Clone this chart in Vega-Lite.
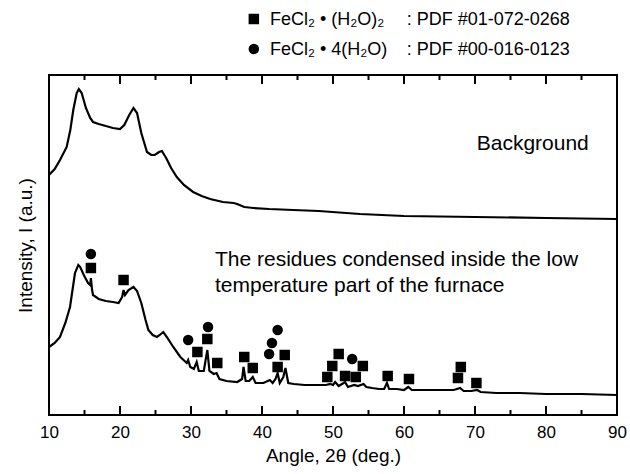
{
  "$schema": "https://vega.github.io/schema/vega-lite/v6.json",
  "width": 568,
  "height": 340,
  "autosize": {"type": "none"},
  "padding": {"left": 49, "top": 75, "right": 13, "bottom": 59},
  "config": {
    "font": "Liberation Sans",
    "view": {"stroke": null},
    "axis": {"grid": false, "domain": false, "ticks": false, "labelColor": "black", "titleColor": "black", "labelFont": "Liberation Sans", "titleFont": "Liberation Sans", "titleFontWeight": "normal"}
  },
  "datasets": {
    "major": [{"angle": 10}, {"angle": 20}, {"angle": 30}, {"angle": 40}, {"angle": 50}, {"angle": 60}, {"angle": 70}, {"angle": 80}, {"angle": 90}],
    "minor": [{"angle": 15}, {"angle": 25}, {"angle": 35}, {"angle": 45}, {"angle": 55}, {"angle": 65}, {"angle": 75}, {"angle": 85}],
    "one": [{"frame": 1}]
  },
  "layer": [
    {
      "data": {"values": [
        {"angle": 10.0, "intensity": 240}, {"angle": 10.8, "intensity": 246}, {"angle": 11.55, "intensity": 255}, {"angle": 12.49, "intensity": 268},
        {"angle": 13.0, "intensity": 285}, {"angle": 13.42, "intensity": 305}, {"angle": 13.9, "intensity": 322}, {"angle": 14.2, "intensity": 326},
        {"angle": 14.6, "intensity": 322}, {"angle": 15.2, "intensity": 307}, {"angle": 15.8, "intensity": 297}, {"angle": 16.2, "intensity": 293},
        {"angle": 17.0, "intensity": 291}, {"angle": 18.0, "intensity": 289}, {"angle": 19.0, "intensity": 287}, {"angle": 20.0, "intensity": 286},
        {"angle": 20.6, "intensity": 290}, {"angle": 21.3, "intensity": 300}, {"angle": 21.9, "intensity": 307}, {"angle": 22.4, "intensity": 302},
        {"angle": 23.0, "intensity": 282}, {"angle": 23.8, "intensity": 263}, {"angle": 24.4, "intensity": 260}, {"angle": 24.9, "intensity": 260},
        {"angle": 25.5, "intensity": 263}, {"angle": 25.9, "intensity": 264}, {"angle": 26.5, "intensity": 257}, {"angle": 27.2, "intensity": 247},
        {"angle": 28.0, "intensity": 238}, {"angle": 29.0, "intensity": 230}, {"angle": 30.3, "intensity": 223}, {"angle": 31.5, "intensity": 219},
        {"angle": 32.7, "intensity": 216}, {"angle": 34.5, "intensity": 213}, {"angle": 36.0, "intensity": 212}, {"angle": 36.5, "intensity": 211},
        {"angle": 37.5, "intensity": 208}, {"angle": 38.8, "intensity": 207}, {"angle": 41.0, "intensity": 206}, {"angle": 44.4, "intensity": 205},
        {"angle": 48.0, "intensity": 204}, {"angle": 53.8, "intensity": 201}, {"angle": 60.0, "intensity": 199}, {"angle": 70.0, "intensity": 198},
        {"angle": 80.0, "intensity": 197}, {"angle": 90.0, "intensity": 196}
      ]},
      "mark": {"type": "line", "color": "black", "strokeWidth": 2.2},
      "encoding": {
        "x": {"field": "angle", "type": "quantitative", "scale": {"domain": [10, 90], "nice": false, "zero": false},
          "axis": {"orient": "bottom", "values": [10, 20, 30, 40, 50, 60, 70, 80, 90], "labelPadding": 9, "labelFontSize": 17, "labelFlush": false, "labelOverlap": false, "title": "Angle, 2θ (deg.)", "titleFontSize": 19, "titlePadding": 6}},
        "y": {"field": "intensity", "type": "quantitative", "scale": {"domain": [0, 340], "nice": false, "zero": false},
          "axis": {"orient": "left", "labels": false, "title": "Intensity, I (a.u.)", "titleFontSize": 19, "titlePadding": 14}}
      }
    },
    {
      "data": {"values": [
        {"angle": 10.0, "intensity": 68}, {"angle": 10.8, "intensity": 72}, {"angle": 11.55, "intensity": 78}, {"angle": 12.3, "intensity": 92},
        {"angle": 12.96, "intensity": 108}, {"angle": 13.66, "intensity": 142}, {"angle": 14.13, "intensity": 150}, {"angle": 14.4, "intensity": 148},
        {"angle": 14.9, "intensity": 140}, {"angle": 15.5, "intensity": 132}, {"angle": 15.8, "intensity": 130}, {"angle": 15.9, "intensity": 137},
        {"angle": 16.05, "intensity": 126}, {"angle": 16.2, "intensity": 120}, {"angle": 17.0, "intensity": 116}, {"angle": 18.0, "intensity": 114},
        {"angle": 19.0, "intensity": 113}, {"angle": 19.8, "intensity": 112}, {"angle": 20.3, "intensity": 118}, {"angle": 20.5, "intensity": 125},
        {"angle": 20.7, "intensity": 120}, {"angle": 21.2, "intensity": 125}, {"angle": 21.9, "intensity": 128}, {"angle": 22.4, "intensity": 124},
        {"angle": 23.0, "intensity": 112}, {"angle": 23.6, "intensity": 95}, {"angle": 24.0, "intensity": 85}, {"angle": 24.6, "intensity": 80},
        {"angle": 25.2, "intensity": 78}, {"angle": 25.6, "intensity": 80}, {"angle": 26.1, "intensity": 83}, {"angle": 26.6, "intensity": 78},
        {"angle": 27.5, "intensity": 68}, {"angle": 28.5, "intensity": 58}, {"angle": 29.4, "intensity": 52}, {"angle": 29.6, "intensity": 55},
        {"angle": 29.9, "intensity": 48}, {"angle": 30.4, "intensity": 46}, {"angle": 30.8, "intensity": 53}, {"angle": 31.1, "intensity": 44},
        {"angle": 31.8, "intensity": 44}, {"angle": 32.3, "intensity": 65}, {"angle": 32.6, "intensity": 44}, {"angle": 33.2, "intensity": 41},
        {"angle": 33.6, "intensity": 42}, {"angle": 34.0, "intensity": 36}, {"angle": 35.0, "intensity": 34}, {"angle": 36.5, "intensity": 33},
        {"angle": 37.2, "intensity": 36}, {"angle": 37.4, "intensity": 48}, {"angle": 37.7, "intensity": 34}, {"angle": 38.2, "intensity": 34},
        {"angle": 38.7, "intensity": 38}, {"angle": 39.1, "intensity": 32}, {"angle": 40.2, "intensity": 32}, {"angle": 41.1, "intensity": 35},
        {"angle": 41.5, "intensity": 32}, {"angle": 41.9, "intensity": 36}, {"angle": 42.2, "intensity": 42}, {"angle": 42.5, "intensity": 32},
        {"angle": 43.0, "intensity": 38}, {"angle": 43.3, "intensity": 47}, {"angle": 43.7, "intensity": 32}, {"angle": 44.5, "intensity": 31},
        {"angle": 46.0, "intensity": 30}, {"angle": 47.5, "intensity": 30}, {"angle": 49.0, "intensity": 30}, {"angle": 49.6, "intensity": 31},
        {"angle": 50.0, "intensity": 30}, {"angle": 50.3, "intensity": 33}, {"angle": 50.8, "intensity": 29}, {"angle": 51.5, "intensity": 32},
        {"angle": 51.7, "intensity": 33}, {"angle": 52.1, "intensity": 28}, {"angle": 53.0, "intensity": 30}, {"angle": 53.5, "intensity": 29},
        {"angle": 54.3, "intensity": 31}, {"angle": 54.7, "intensity": 28}, {"angle": 55.5, "intensity": 27}, {"angle": 56.5, "intensity": 26},
        {"angle": 57.2, "intensity": 26}, {"angle": 57.6, "intensity": 32}, {"angle": 57.9, "intensity": 26}, {"angle": 59.0, "intensity": 26},
        {"angle": 60.0, "intensity": 25}, {"angle": 60.6, "intensity": 28}, {"angle": 61.1, "intensity": 25}, {"angle": 63.0, "intensity": 25},
        {"angle": 65.0, "intensity": 25}, {"angle": 67.0, "intensity": 25}, {"angle": 67.9, "intensity": 27}, {"angle": 68.4, "intensity": 24},
        {"angle": 69.5, "intensity": 24}, {"angle": 70.3, "intensity": 25}, {"angle": 70.8, "intensity": 23}, {"angle": 73.0, "intensity": 22},
        {"angle": 76.3, "intensity": 22}, {"angle": 80.0, "intensity": 21}, {"angle": 85.0, "intensity": 21}, {"angle": 90.0, "intensity": 20}
      ]},
      "mark": {"type": "line", "color": "black", "strokeWidth": 2.2},
      "encoding": {
        "x": {"field": "angle", "type": "quantitative"},
        "y": {"field": "intensity", "type": "quantitative"}
      }
    },
    {
      "data": {"name": "one"},
      "mark": {"type": "rect", "filled": false, "stroke": "black", "strokeWidth": 2},
      "encoding": {
        "x": {"datum": 10, "type": "quantitative"},
        "x2": {"datum": 90},
        "y": {"datum": 0, "type": "quantitative"},
        "y2": {"datum": 340}
      }
    },
    {
      "data": {"name": "major"},
      "mark": {"type": "tick", "orient": "vertical", "thickness": 2, "size": 9, "color": "black", "opacity": 1, "yOffset": -4.5},
      "encoding": {
        "x": {"field": "angle", "type": "quantitative"},
        "y": {"datum": 0, "type": "quantitative"}
      }
    },
    {
      "data": {"name": "major"},
      "mark": {"type": "tick", "orient": "vertical", "thickness": 2, "size": 9, "color": "black", "opacity": 1, "yOffset": 4.5},
      "encoding": {
        "x": {"field": "angle", "type": "quantitative"},
        "y": {"datum": 340, "type": "quantitative"}
      }
    },
    {
      "data": {"name": "minor"},
      "mark": {"type": "tick", "orient": "vertical", "thickness": 2, "size": 5, "color": "black", "opacity": 1, "yOffset": -2.5},
      "encoding": {
        "x": {"field": "angle", "type": "quantitative"},
        "y": {"datum": 0, "type": "quantitative"}
      }
    },
    {
      "data": {"name": "minor"},
      "mark": {"type": "tick", "orient": "vertical", "thickness": 2, "size": 5, "color": "black", "opacity": 1, "yOffset": 2.5},
      "encoding": {
        "x": {"field": "angle", "type": "quantitative"},
        "y": {"datum": 340, "type": "quantitative"}
      }
    },
    {
      "data": {"values": [
        {"angle": 15.9, "intensity": 147}, {"angle": 20.5, "intensity": 135}, {"angle": 30.9, "intensity": 63}, {"angle": 32.3, "intensity": 76},
        {"angle": 33.7, "intensity": 52}, {"angle": 37.5, "intensity": 58}, {"angle": 38.7, "intensity": 47}, {"angle": 42.2, "intensity": 48},
        {"angle": 43.2, "intensity": 60}, {"angle": 49.2, "intensity": 38}, {"angle": 49.9, "intensity": 49}, {"angle": 50.8, "intensity": 61},
        {"angle": 51.7, "intensity": 39}, {"angle": 53.2, "intensity": 38}, {"angle": 54.2, "intensity": 49}, {"angle": 57.7, "intensity": 39},
        {"angle": 60.7, "intensity": 36}, {"angle": 67.6, "intensity": 37}, {"angle": 68.0, "intensity": 48}, {"angle": 70.2, "intensity": 32},
        {"angle": 38.85, "intensity": 396}
      ]},
      "mark": {"type": "point", "shape": "square", "filled": true, "color": "black", "opacity": 1, "size": 110},
      "encoding": {
        "x": {"field": "angle", "type": "quantitative"},
        "y": {"field": "intensity", "type": "quantitative"}
      }
    },
    {
      "data": {"values": [
        {"angle": 15.9, "intensity": 161}, {"angle": 29.6, "intensity": 75}, {"angle": 32.4, "intensity": 88}, {"angle": 41.0, "intensity": 61},
        {"angle": 41.4, "intensity": 72}, {"angle": 42.2, "intensity": 85}, {"angle": 52.7, "intensity": 56},
        {"angle": 38.85, "intensity": 366}
      ]},
      "mark": {"type": "point", "shape": "circle", "filled": true, "color": "black", "opacity": 1, "size": 110},
      "encoding": {
        "x": {"field": "angle", "type": "quantitative"},
        "y": {"field": "intensity", "type": "quantitative"}
      }
    },
    {
      "data": {"values": [
        {"angle": 70.24, "intensity": 265, "label": "Background"},
        {"angle": 33.38, "intensity": 149, "label": "The residues condensed inside the low"},
        {"angle": 33.38, "intensity": 123, "label": "temperature part of the furnace"}
      ]},
      "mark": {"type": "text", "align": "left", "baseline": "alphabetic", "fontSize": 21, "color": "black"},
      "encoding": {
        "x": {"field": "angle", "type": "quantitative"},
        "y": {"field": "intensity", "type": "quantitative"},
        "text": {"field": "label"}
      }
    },
    {
      "data": {"values": [
        {"angle": 41.13, "intensity": 390, "label": "FeCl₂ • (H₂O)₂"},
        {"angle": 60.37, "intensity": 390, "label": ": PDF #01-072-0268"},
        {"angle": 41.13, "intensity": 360, "label": "FeCl₂ • 4(H₂O)"},
        {"angle": 60.37, "intensity": 360, "label": ": PDF #00-016-0123"}
      ]},
      "mark": {"type": "text", "align": "left", "baseline": "alphabetic", "fontSize": 18, "color": "black"},
      "encoding": {
        "x": {"field": "angle", "type": "quantitative"},
        "y": {"field": "intensity", "type": "quantitative"},
        "text": {"field": "label"}
      }
    }
  ]
}
